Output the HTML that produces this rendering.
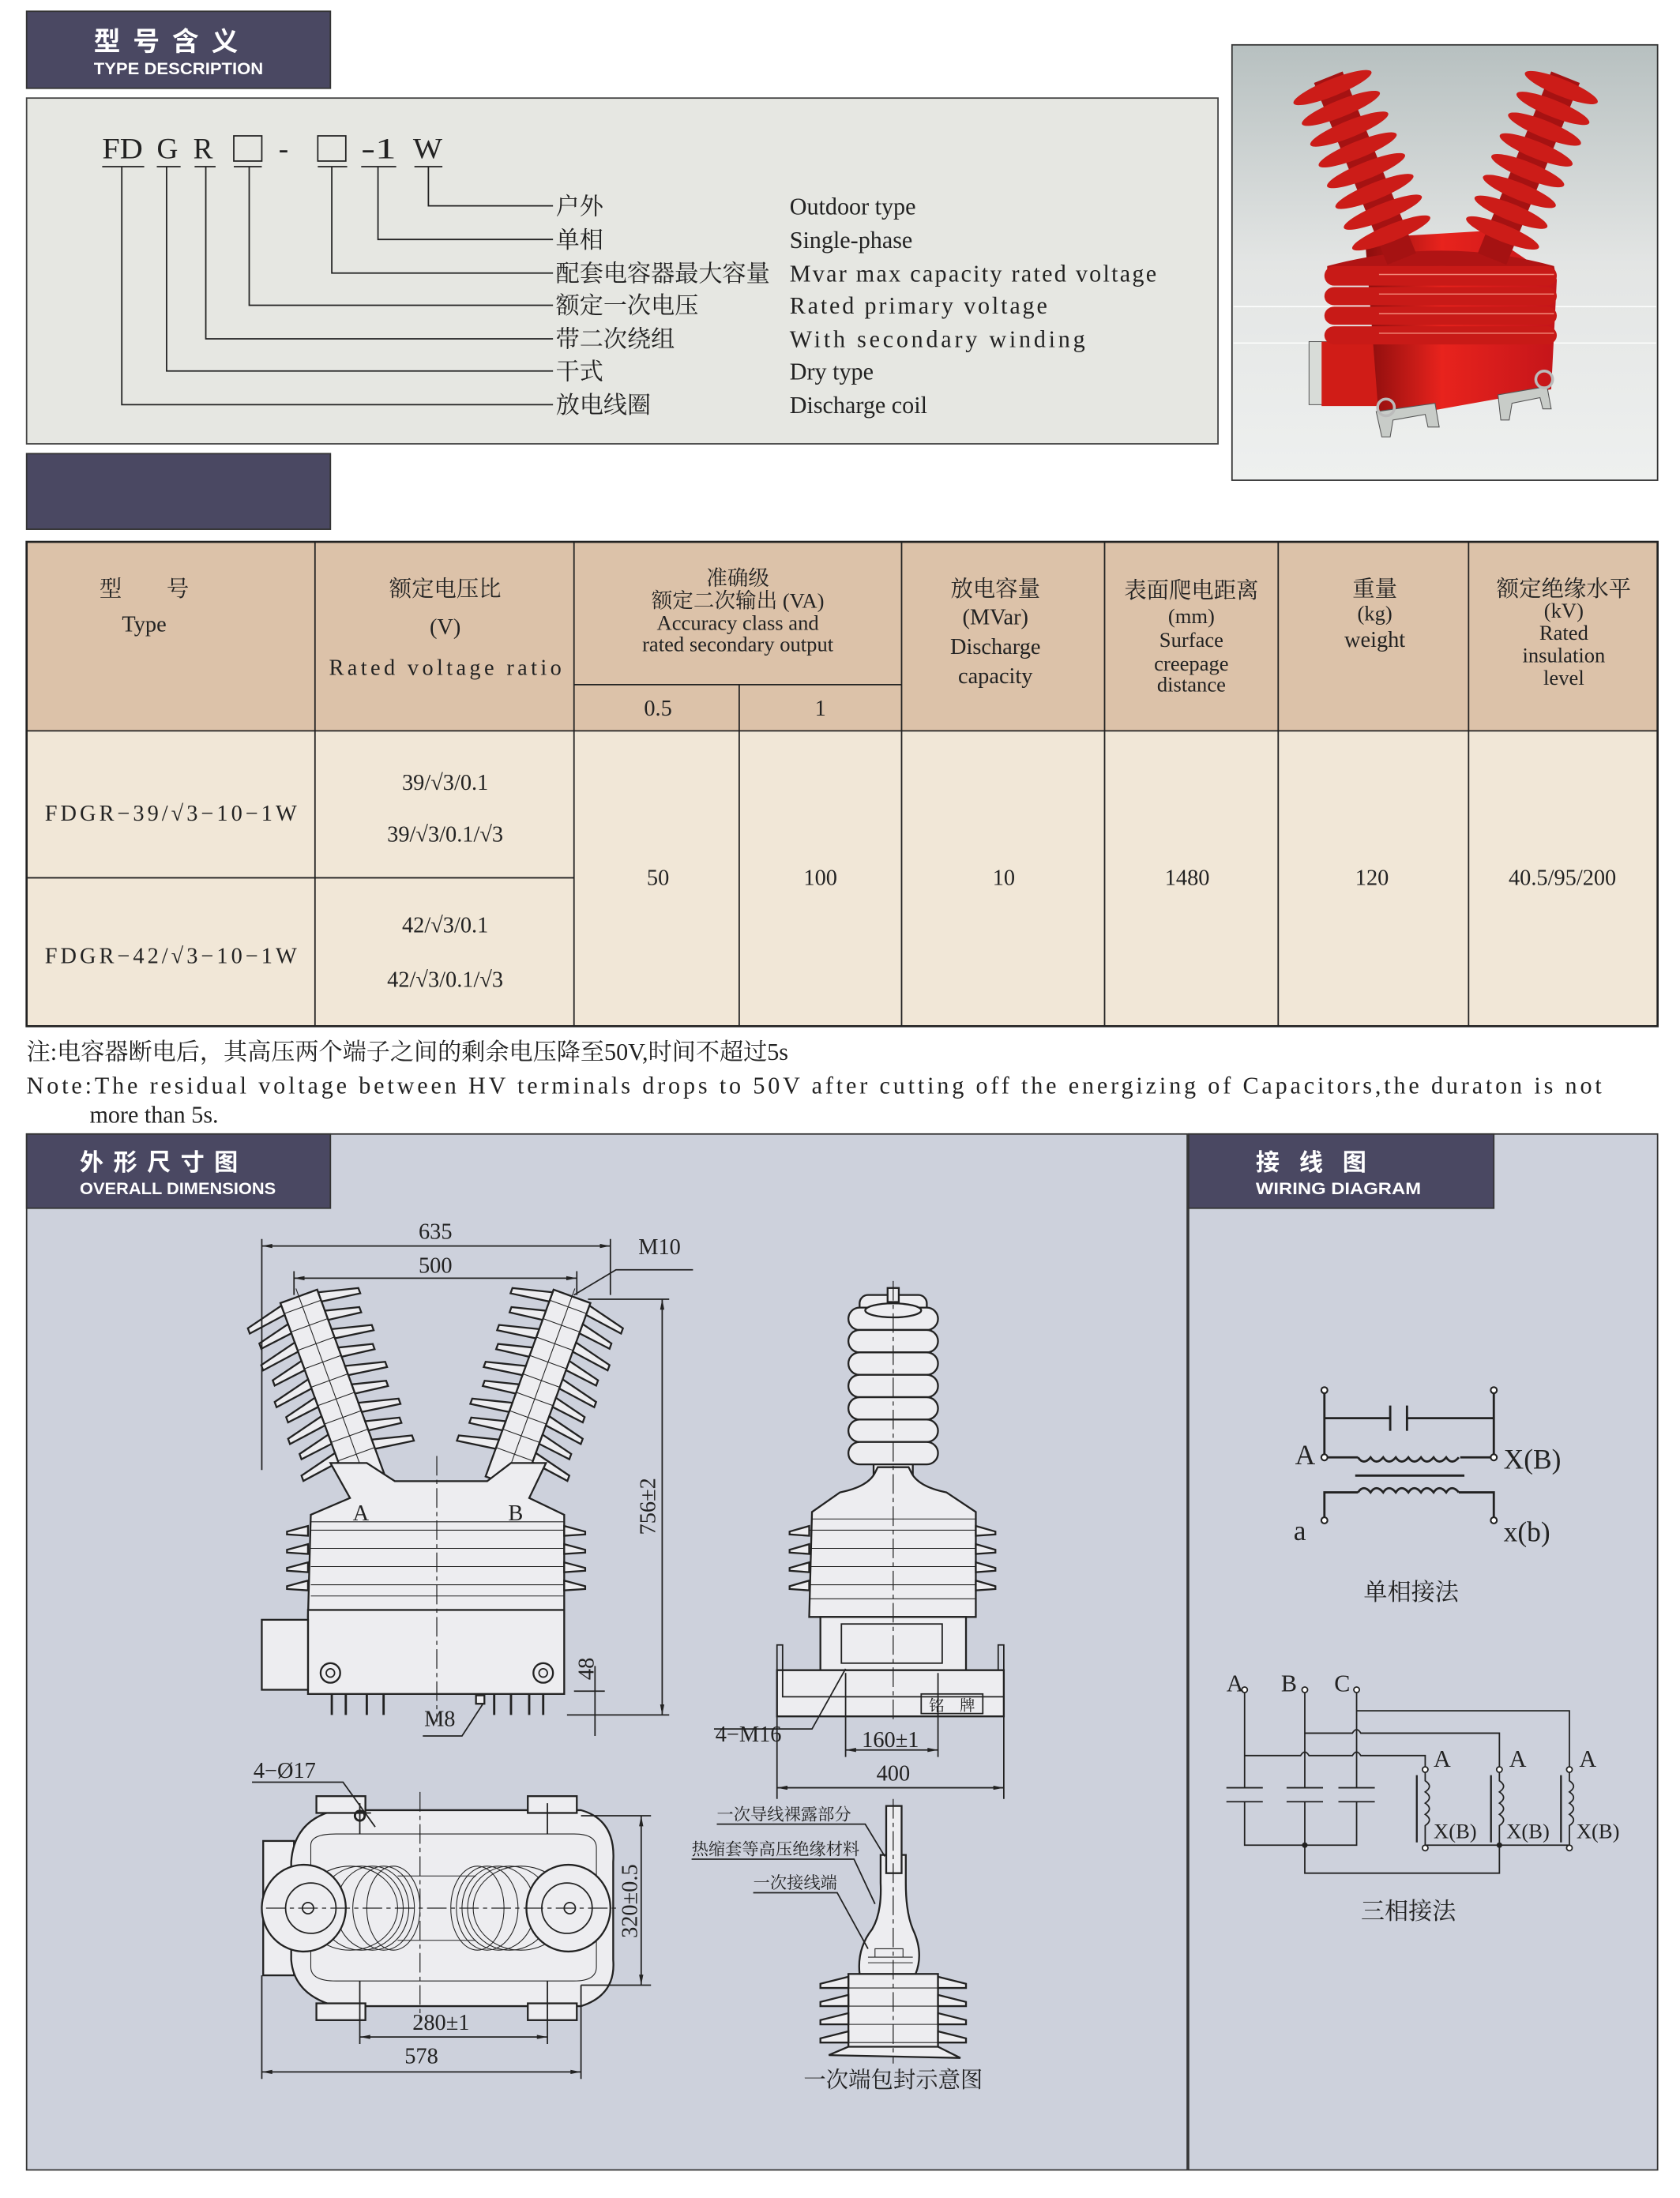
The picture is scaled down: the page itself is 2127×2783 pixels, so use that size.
<!DOCTYPE html>
<html><head><meta charset="utf-8"><style>
html,body{margin:0;padding:0;background:#fff}
svg{display:block}
text{font-family:"Liberation Serif","Noto Serif CJK SC",serif;fill:#222}
.cn{font-family:"Liberation Serif","Noto Serif CJK SC",serif}
.hd{font-family:"Liberation Sans","Noto Sans CJK SC",sans-serif;fill:#fff;font-weight:bold}
.ln{stroke:#222;stroke-width:1;fill:none}
.th{stroke:#222;stroke-width:1.6;fill:none}
.bd{fill:#ededf0;stroke:#222;stroke-width:1.3}
.th2{stroke:#222;stroke-width:0.6;fill:none}
.dash{stroke:#222;stroke-width:0.7;stroke-dasharray:14 3 3 3;fill:none}
</style></head><body>
<svg width="2127" height="2783" viewBox="0 0 1200 1570" xmlns="http://www.w3.org/2000/svg">
<defs>
<linearGradient id="pg" x1="0" y1="0" x2="0" y2="1"><stop offset="0" stop-color="#b7c0c0"/><stop offset="0.5" stop-color="#e3e5e4"/><stop offset="1" stop-color="#eef0ef"/></linearGradient>
<linearGradient id="rd" x1="0" y1="0" x2="1" y2="0"><stop offset="0" stop-color="#8a0d0d"/><stop offset="0.4" stop-color="#e8231d"/><stop offset="1" stop-color="#c4151a"/></linearGradient>
<marker id="ar" viewBox="0 0 10 4" refX="10" refY="2" markerWidth="8" markerHeight="3" orient="auto-start-reverse"><path d="M0,0L10,2L0,4z" fill="#222"/></marker>
<g id="ins">
<rect x="-14" y="-66" width="28" height="142" class="bd"/>
<g class="bd" stroke-width="1.1">
<path d="M-14 -64 L-42 -57 L-42 -53 L-14 -57Z M14 -64 L42 -57 L42 -53 L14 -57Z"/>
<path d="M-14 -50 L-38 -44 L-38 -40 L-14 -43Z M14 -50 L38 -44 L38 -40 L14 -43Z"/>
<path d="M-14 -36 L-42 -29 L-42 -25 L-14 -29Z M14 -36 L42 -29 L42 -25 L14 -29Z"/>
<path d="M-14 -22 L-38 -16 L-38 -12 L-14 -15Z M14 -22 L38 -16 L38 -12 L14 -15Z"/>
<path d="M-14 -8 L-42 -1 L-42 3 L-14 -1Z M14 -8 L42 -1 L42 3 L14 -1Z"/>
<path d="M-14 6 L-38 12 L-38 16 L-14 13Z M14 6 L38 12 L38 16 L14 13Z"/>
<path d="M-14 20 L-42 27 L-42 31 L-14 27Z M14 20 L42 27 L42 31 L14 27Z"/>
<path d="M-14 34 L-38 40 L-38 44 L-14 41Z M14 34 L38 40 L38 44 L14 41Z"/>
<path d="M-14 48 L-42 55 L-42 59 L-14 55Z M14 48 L42 55 L42 59 L14 55Z"/>
</g>
<g class="th2"><path d="M-14 -58H14M-14 -44H14M-14 -30H14M-14 -16H14M-14 -2H14M-14 12H14M-14 26H14M-14 40H14M-14 54H14"/><path d="M0 -72V70"/></g>
</g>
</defs>

<!-- TYPE DESCRIPTION header -->
<rect x="19" y="8" width="217" height="55" fill="#4a4862" stroke="#333"/>
<text x="67" y="36" class="hd" font-size="19" letter-spacing="9">型号含义</text>
<text x="67" y="53" class="hd" font-size="12" textLength="121" lengthAdjust="spacingAndGlyphs">TYPE DESCRIPTION</text>

<!-- panel -->
<rect x="19" y="70" width="851" height="247" fill="#e6e7e2" stroke="#444"/>
<g font-size="21">
<text x="73" y="113" textLength="29" lengthAdjust="spacingAndGlyphs">FD</text>
<text x="112" y="113">G</text>
<text x="138" y="113">R</text>
<rect x="167" y="97" width="20" height="18" class="ln"/>
<text x="199" y="113">-</text>
<rect x="227" y="97" width="20" height="18" class="ln"/>
<text x="258" y="113" textLength="25" lengthAdjust="spacingAndGlyphs">-1</text>
<text x="295" y="113" textLength="21" lengthAdjust="spacingAndGlyphs">W</text>
</g>
<g class="ln">
<path d="M73 119h30M112 119h17M139 119h15M167 119h20M227 119h21M258 119h25M296 119h20"/>
<path d="M87 119V289H395M119 119V265H395M147 119V242H395M178 119V218H395M237 119V195H395M270 119V171H395M306 119V147H395"/>
</g>
<g font-size="17" class="cn">
<text x="397" y="153">户外</text><text x="397" y="177">单相</text><text x="397" y="201">配套电容器最大容量</text>
<text x="397" y="224">额定一次电压</text><text x="397" y="248">带二次绕组</text><text x="397" y="271">干式</text><text x="397" y="295">放电线圈</text>
<text x="564" y="153">Outdoor type</text><text x="564" y="177">Single-phase</text><text x="564" y="201" textLength="262" lengthAdjust="spacing">Mvar max capacity rated voltage</text>
<text x="564" y="224" textLength="184" lengthAdjust="spacing">Rated primary voltage</text><text x="564" y="248" textLength="211" lengthAdjust="spacing">With secondary winding</text><text x="564" y="271">Dry type</text><text x="564" y="295">Discharge coil</text>
</g>

<!-- photo -->
<rect x="880" y="32" width="304" height="311" fill="url(#pg)" stroke="#333"/>
<line x1="881" y1="219" x2="1183" y2="219" stroke="#fff" stroke-width="0.8"/>
<line x1="881" y1="245" x2="1183" y2="245" stroke="#fff" stroke-width="0.8"/>
<g>
<rect x="935" y="244" width="22" height="45" fill="#d8dcd8" stroke="#444" stroke-width="0.5"/>
<rect x="944" y="244" width="40" height="46" fill="#d01c17"/>
<path d="M975 170 L1060 165 L1112 200 L1108 278 L985 300 Z" fill="url(#rd)"/>
<path d="M948 190 Q1030 168 1110 190 L1112 200 Q1030 180 948 200Z" fill="#b01414"/>
<g fill="#c81a17">
<rect x="946" y="190" width="166" height="14" rx="7"/><rect x="946" y="205" width="166" height="13" rx="7"/>
<rect x="946" y="219" width="166" height="13" rx="7"/><rect x="946" y="233" width="166" height="13" rx="7"/>
</g>
<g stroke="#f38a7a" stroke-width="0.8"><path d="M985 196H1110M985 210H1110M985 224H1110M985 238H1110"/></g>
<g transform="translate(975,120) rotate(-22)">
<rect x="-11" y="-70" width="22" height="140" fill="#a51212"/>
<g fill="#cc1c18"><ellipse cx="0" cy="-62" rx="30" ry="6"/><ellipse cx="0" cy="-46" rx="30" ry="6"/><ellipse cx="0" cy="-30" rx="30" ry="6"/><ellipse cx="0" cy="-14" rx="30" ry="6"/><ellipse cx="0" cy="2" rx="30" ry="6"/><ellipse cx="0" cy="18" rx="30" ry="6"/><ellipse cx="0" cy="34" rx="30" ry="6"/><ellipse cx="0" cy="50" rx="30" ry="6"/></g>
</g>
<g transform="translate(1092,120) rotate(22)">
<rect x="-11" y="-70" width="22" height="140" fill="#a51212"/>
<g fill="#cc1c18"><ellipse cx="0" cy="-62" rx="28" ry="6"/><ellipse cx="0" cy="-46" rx="28" ry="6"/><ellipse cx="0" cy="-30" rx="28" ry="6"/><ellipse cx="0" cy="-14" rx="28" ry="6"/><ellipse cx="0" cy="2" rx="28" ry="6"/><ellipse cx="0" cy="18" rx="28" ry="6"/><ellipse cx="0" cy="34" rx="28" ry="6"/><ellipse cx="0" cy="50" rx="28" ry="6"/></g>
</g>
<g fill="#c8ccc8" stroke="#555" stroke-width="0.6">
<path d="M983 294 L1025 288 L1028 305 L1020 305 L1018 296 L995 300 L993 312 L987 312Z"/>
<path d="M1070 282 L1105 276 L1108 292 L1102 292 L1100 284 L1080 288 L1078 300 L1072 300Z"/>
<circle cx="990" cy="291" r="6" fill="none" stroke="#bbb" stroke-width="2"/>
<circle cx="1103" cy="271" r="6" fill="none" stroke="#bbb" stroke-width="2"/>
</g>
</g>

<!-- second header (empty) -->
<rect x="19" y="324" width="217" height="54" fill="#4a4862" stroke="#333"/>

<!-- table -->
<rect x="19" y="387" width="1165" height="135" fill="#dcc2a9"/>
<rect x="19" y="522" width="1165" height="211" fill="#f1e7d7"/>
<rect x="19" y="387" width="1165" height="346" fill="none" stroke="#222" stroke-width="1.5"/>
<g class="ln" stroke-width="0.8">
<path d="M225 387V733M410 387V733M528 489V733M644 387V733M789 387V733M913 387V733M1049 387V733"/>
<path d="M410 489H644M19 522H1184M19 627H410"/>
</g>
<g font-size="16" text-anchor="middle" class="cn">
<text x="103" y="426">型　　号</text><text x="103" y="451">Type</text>
<text x="318" y="426">额定电压比</text><text x="318" y="453">(V)</text><text x="318" y="482" textLength="166" lengthAdjust="spacing">Rated voltage ratio</text>
<text x="527" y="418" font-size="15">准确级</text><text x="527" y="434" font-size="15">额定二次输出 (VA)</text>
<text x="527" y="450" font-size="15">Accuracy class and</text><text x="527" y="465" font-size="15">rated secondary output</text>
<text x="470" y="511">0.5</text><text x="586" y="511">1</text>
<text x="711" y="426">放电容量</text><text x="711" y="446">(MVar)</text><text x="711" y="467">Discharge</text><text x="711" y="488">capacity</text>
<text x="851" y="427">表面爬电距离</text><text x="851" y="445" font-size="15">(mm)</text><text x="851" y="462" font-size="15">Surface</text><text x="851" y="479" font-size="15">creepage</text><text x="851" y="494" font-size="15">distance</text>
<text x="982" y="426">重量</text><text x="982" y="443" font-size="15">(kg)</text><text x="982" y="462">weight</text>
<text x="1117" y="426">额定绝缘水平</text><text x="1117" y="441" font-size="15">(kV)</text><text x="1117" y="457" font-size="15">Rated</text><text x="1117" y="473" font-size="15">insulation</text><text x="1117" y="489" font-size="15">level</text>
<text x="122" y="586" textLength="180" lengthAdjust="spacing">FDGR−39/√3−10−1W</text>
<text x="318" y="564">39/√3/0.1</text><text x="318" y="601">39/√3/0.1/√3</text>
<text x="122" y="688" textLength="180" lengthAdjust="spacing">FDGR−42/√3−10−1W</text>
<text x="318" y="666">42/√3/0.1</text><text x="318" y="705">42/√3/0.1/√3</text>
<text x="470" y="632">50</text><text x="586" y="632">100</text><text x="717" y="632">10</text>
<text x="848" y="632">1480</text><text x="980" y="632">120</text><text x="1116" y="632">40.5/95/200</text>
</g>
<g font-size="17" class="cn">
<text x="19" y="757">注:电容器断电后，其高压两个端子之间的剩余电压降至50V,时间不超过5s</text>
<text x="19" y="781" textLength="1125" lengthAdjust="spacing">Note:The residual voltage between HV terminals drops to 50V after cutting off the energizing of Capacitors,the duraton is not</text>
<text x="64" y="802">more than 5s.</text>
</g>

<!-- drawing panels -->
<rect x="19" y="810" width="829" height="740" fill="#cdd1dc" stroke="#333"/>
<rect x="849" y="810" width="335" height="740" fill="#cdd1dc" stroke="#333"/>
<rect x="19" y="810" width="217" height="53" fill="#4a4862" stroke="#333"/>
<text x="57" y="836" class="hd" font-size="17" letter-spacing="7">外形尺寸图</text>
<text x="57" y="853" class="hd" font-size="12" textLength="140" lengthAdjust="spacingAndGlyphs">OVERALL DIMENSIONS</text>
<rect x="849" y="810" width="218" height="53" fill="#4a4862" stroke="#333"/>
<text x="897" y="836" class="hd" font-size="17" letter-spacing="14">接线图</text>
<text x="897" y="853" class="hd" font-size="12" textLength="118" lengthAdjust="spacingAndGlyphs">WIRING DIAGRAM</text>

<!-- FRONT VIEW -->
<g>
<use href="#ins" transform="translate(236,988) rotate(-20)"/>
<use href="#ins" transform="translate(386,988) rotate(20)"/>
<path d="M236 1045 L250 1070 L222 1082 L220 1155 L403 1155 L403 1082 L378 1070 L390 1045 L365 1045 L348 1058 L282 1058 L262 1045Z" class="bd"/>
<rect x="220" y="1150" width="183" height="60" class="bd"/>
<rect x="187" y="1157" width="33" height="50" class="bd"/>
<g class="bd" stroke-width="1.1">
<path d="M220 1090 L205 1094 L205 1096 L220 1097Z M403 1090 L418 1094 L418 1096 L403 1097Z"/>
<path d="M220 1103 L205 1107 L205 1109 L220 1110Z M403 1103 L418 1107 L418 1109 L403 1110Z"/>
<path d="M220 1116 L205 1120 L205 1122 L220 1123Z M403 1116 L418 1120 L418 1122 L403 1123Z"/>
<path d="M220 1129 L205 1133 L205 1135 L220 1136Z M403 1129 L418 1133 L418 1135 L403 1136Z"/>
</g>
<g class="th2"><path d="M222 1087H403M222 1093H403M222 1106H403M222 1119H403M222 1132H403M222 1140H403"/></g>
<path d="M312 1040V1230" class="dash"/>
<text x="252" y="1086" font-size="16">A</text><text x="363" y="1086" font-size="16">B</text>
<circle cx="236" cy="1195" r="7" class="bd"/><circle cx="236" cy="1195" r="3" class="ln"/>
<circle cx="388" cy="1195" r="7" class="bd"/><circle cx="388" cy="1195" r="3" class="ln"/>
<g class="th"><path d="M237 1210V1225M247 1210V1225M262 1210V1225M274 1210V1225M353 1210V1225M365 1210V1225M378 1210V1225M388 1210V1225"/></g>
<rect x="340" y="1211" width="6" height="6" class="bd"/>
<g class="ln" stroke-width="0.8">
<path d="M187 885V1050M436 885V925M210 908V925M412 908V925"/>
<path d="M187 890H436" marker-start="url(#ar)" marker-end="url(#ar)"/>
<path d="M210 913H412" marker-start="url(#ar)" marker-end="url(#ar)"/>
<path d="M410 925L440 907H495"/>
<path d="M420 928H478M405 1225H478M410 1208H432M425 1190V1240"/>
<path d="M473 928V1225" marker-start="url(#ar)" marker-end="url(#ar)"/>
<path d="M345 1217L330 1240H302"/>
</g>
<text x="311" y="885" font-size="16" text-anchor="middle">635</text>
<text x="311" y="909" font-size="16" text-anchor="middle">500</text>
<text x="456" y="896" font-size="16">M10</text>
<text x="468" y="1076" font-size="16" transform="rotate(-90 468 1076)" text-anchor="middle">756±2</text>
<text x="424" y="1192" font-size="16" transform="rotate(-90 424 1192)" text-anchor="middle">48</text>
<text x="303" y="1233" font-size="16">M8</text>
</g>

<!-- SIDE VIEW -->
<g>
<g class="bd" stroke-width="1.1">
<rect x="624" y="1040" width="28" height="15"/>
<rect x="614" y="925" width="48" height="120" rx="6"/>
<rect x="606" y="934" width="64" height="16" rx="8"/><rect x="606" y="950" width="64" height="16" rx="8"/>
<rect x="606" y="966" width="64" height="16" rx="8"/><rect x="606" y="982" width="64" height="16" rx="8"/>
<rect x="606" y="998" width="64" height="16" rx="8"/><rect x="606" y="1014" width="64" height="16" rx="8"/>
<rect x="606" y="1030" width="64" height="16" rx="8"/>
<ellipse cx="638" cy="936" rx="20" ry="5"/>
<rect x="634" y="920" width="8" height="10"/>
</g>
<path d="M627 1048 L625 1052 Q620 1062 600 1066 L580 1080 L578 1155 L697 1155 L697 1080 L676 1066 Q656 1062 651 1052 L649 1048Z" class="bd"/>
<g class="bd" stroke-width="1.1">
<path d="M578 1090 L564 1094 L564 1096 L578 1097Z M697 1090 L711 1094 L711 1096 L697 1097Z"/>
<path d="M578 1103 L564 1107 L564 1109 L578 1110Z M697 1103 L711 1107 L711 1109 L697 1110Z"/>
<path d="M578 1116 L564 1120 L564 1122 L578 1123Z M697 1116 L711 1120 L711 1122 L697 1123Z"/>
<path d="M578 1129 L564 1133 L564 1135 L578 1136Z M697 1129 L711 1133 L711 1135 L697 1136Z"/>
</g>
<g class="th2"><path d="M580 1085H697M578 1093H697M578 1106H697M578 1119H697M578 1132H697M578 1142H697"/></g>
<rect x="586" y="1155" width="104" height="38" class="bd"/>
<rect x="601" y="1160" width="72" height="28" class="ln" stroke-width="0.6"/>
<path d="M555 1193 L717 1193 L717 1226 L555 1226 Z" class="bd"/>
<path d="M555 1193V1175h4V1212h158V1175h-4v18" class="ln"/>
<rect x="658" y="1210" width="44" height="14" class="ln" stroke-width="0.8"/>
<text x="680" y="1222" font-size="11" text-anchor="middle" class="cn">铭　牌</text>
<path d="M638 915V1230" class="dash"/>
<g class="ln" stroke-width="0.8">
<path d="M604 1192L580 1235H510"/>
<path d="M604 1195V1255M670 1195V1255M555 1226V1285M717 1226V1285"/>
<path d="M604 1250H670" marker-start="url(#ar)" marker-end="url(#ar)"/>
<path d="M555 1277H717" marker-start="url(#ar)" marker-end="url(#ar)"/>
</g>
<text x="511" y="1244" font-size="16">4−M16</text>
<text x="636" y="1248" font-size="16" text-anchor="middle">160±1</text>
<text x="638" y="1272" font-size="16" text-anchor="middle">400</text>
</g>

<!-- PLAN VIEW -->
<g>
<rect x="188" y="1315" width="22" height="96" class="bd"/>
<path d="M240 1293 H415 Q440 1300 438 1330 V1400 Q440 1425 415 1433 H240 Q210 1425 208 1400 V1330 Q210 1300 240 1293Z" class="bd"/>
<rect x="226" y="1283" width="35" height="12" class="bd"/><rect x="377" y="1283" width="35" height="12" class="bd"/>
<rect x="226" y="1431" width="35" height="12" class="bd"/><rect x="377" y="1431" width="35" height="12" class="bd"/>
<path d="M222 1318 Q222 1310 240 1310 H410 Q426 1310 426 1320 V1405 Q426 1415 410 1415 H240 Q222 1415 222 1405Z" class="th2"/>
<g class="th2">
<ellipse cx="250" cy="1363" rx="34" ry="30"/><ellipse cx="258" cy="1363" rx="30" ry="30"/><ellipse cx="266" cy="1363" rx="26" ry="30"/><ellipse cx="274" cy="1363" rx="22" ry="30"/><ellipse cx="281" cy="1363" rx="19" ry="30"/>
<ellipse cx="372" cy="1363" rx="34" ry="30"/><ellipse cx="364" cy="1363" rx="30" ry="30"/><ellipse cx="356" cy="1363" rx="26" ry="30"/><ellipse cx="348" cy="1363" rx="22" ry="30"/><ellipse cx="341" cy="1363" rx="19" ry="30"/>
<path d="M284 1340H340M284 1386H340"/>
</g>
<ellipse cx="217" cy="1363" rx="30" ry="31" class="bd"/><circle cx="222" cy="1363" r="18" class="ln" stroke-width="0.7"/><circle cx="220" cy="1363" r="4" class="ln"/>
<ellipse cx="406" cy="1363" rx="30" ry="31" class="bd"/><circle cx="405" cy="1363" r="18" class="ln" stroke-width="0.7"/><circle cx="407" cy="1363" r="4" class="ln"/>
<path d="M190 1363H440M300 1280V1445" class="dash"/>
<circle cx="257" cy="1297" r="3.5" class="th"/>
<g class="ln" stroke-width="0.8">
<path d="M180 1273H245L268 1305"/>
<path d="M250 1295H265M257 1288V1310M385 1295H398M391 1288V1310"/>
<path d="M415 1297H465M415 1418H465"/>
<path d="M458 1297V1418" marker-start="url(#ar)" marker-end="url(#ar)"/>
<path d="M257 1415V1460M391 1415V1460M187 1411V1485M415 1418V1485"/>
<path d="M257 1455H391" marker-start="url(#ar)" marker-end="url(#ar)"/>
<path d="M187 1480H415" marker-start="url(#ar)" marker-end="url(#ar)"/>
</g>
<text x="181" y="1270" font-size="16">4−Ø17</text>
<text x="455" y="1358" font-size="16" transform="rotate(-90 455 1358)" text-anchor="middle">320±0.5</text>
<text x="315" y="1450" font-size="16" text-anchor="middle">280±1</text>
<text x="301" y="1474" font-size="16" text-anchor="middle">578</text>
</g>

<!-- encapsulation detail -->
<g>
<rect x="606" y="1410" width="64" height="58" class="bd"/>
<g class="bd" stroke-width="1.1">
<path d="M606 1412 L586 1417 L586 1420 L606 1420Z M670 1412 L690 1417 L690 1420 L670 1420Z"/>
<path d="M606 1425 L586 1430 L586 1433 L606 1433Z M670 1425 L690 1430 L690 1433 L670 1433Z"/>
<path d="M606 1438 L586 1443 L586 1446 L606 1446Z M670 1438 L690 1443 L690 1446 L670 1446Z"/>
<path d="M606 1451 L586 1456 L586 1459 L606 1459Z M670 1451 L690 1456 L690 1459 L670 1459Z"/>
<path d="M606 1462 L592 1468 L686 1470 L670 1462Z"/>
</g>
<g class="th2"><path d="M606 1420H670M606 1433H670M606 1446H670M606 1459H670"/></g>
<path d="M614 1410 Q612 1392 623 1378 Q630 1366 629 1345 V1325 H647 V1345 Q647 1366 652 1378 Q660 1395 654 1410Z" class="bd"/>
<rect x="633" y="1290" width="11" height="48" class="bd"/>
<g class="th2"><path d="M620 1398H652M620 1402H652M625 1392h20v6h-20z"/></g>
<path d="M638 1285V1474" class="dash"/>
<g class="ln" stroke-width="0.7">
<path d="M512 1303H618L632 1326"/>
<path d="M494 1328H610L625 1360"/>
<path d="M538 1352H598L620 1392"/>
</g>
<g font-size="12" class="cn">
<text x="512" y="1300">一次导线裸露部分</text>
<text x="494" y="1325">热缩套等高压绝缘材料</text>
<text x="538" y="1349">一次接线端</text>
</g>
<text x="638" y="1491" font-size="16" text-anchor="middle" class="cn">一次端包封示意图</text>
</g>

<!-- WIRING single phase -->
<g class="th" stroke-width="1.6">
<path d="M946 995V1041H970M1067 995V1041H1043"/>
<path d="M946 1013H993M1005 1013H1067M993 1004V1022M1005 1004V1022"/>
<path d="M970 1041 q4 6 9 0 q4 6 9 0 q4 6 9 0 q4 6 9 0 q4 6 9 0 q4 6 9 0 q4 6 9 0 q4 6 9 0"/>
<path d="M968 1054H1046"/>
<path d="M970 1066 q4 -6 9 0 q4 -6 9 0 q4 -6 9 0 q4 -6 9 0 q4 -6 9 0 q4 -6 9 0 q4 -6 9 0 q4 -6 9 0"/>
<path d="M970 1066H946V1085M1042 1066H1067V1085"/>
</g>
<g fill="#fff" stroke="#222" stroke-width="1.2"><circle cx="946" cy="993" r="2.2"/><circle cx="1067" cy="993" r="2.2"/><circle cx="946" cy="1041" r="2.2"/><circle cx="1067" cy="1041" r="2.2"/><circle cx="946" cy="1086" r="2.2"/><circle cx="1067" cy="1086" r="2.2"/></g>
<g font-size="20">
<text x="925" y="1046">A</text><text x="1074" y="1049">X(B)</text>
<text x="924" y="1100">a</text><text x="1074" y="1101">x(b)</text>
</g>
<text x="1008" y="1143" font-size="17" text-anchor="middle" class="cn">单相接法</text>

<!-- WIRING three phase -->
<g class="ln" stroke-width="1">
<path d="M889 1208V1277M889 1287V1318H969V1287M969 1277V1208"/>
<path d="M932 1208V1277M932 1287V1338H1071V1318"/>
<path d="M876 1277H902M876 1287H902M919 1277H945M919 1287H945M956 1277H982M956 1287H982"/>
<path d="M969 1222H1121V1262"/>
<path d="M932 1238H966q3 -5 6 0H1071V1262"/>
<path d="M889 1254H929q3 -5 6 0H966q3 -5 6 0H1018V1262"/>
<path d="M1018 1318H1121"/>
<path d="M1018 1266V1272 q6 4 0 8 q6 4 0 8 q6 4 0 8 q6 4 0 8V1318"/>
<path d="M1071 1266V1272 q6 4 0 8 q6 4 0 8 q6 4 0 8 q6 4 0 8V1318"/>
<path d="M1121 1266V1272 q6 4 0 8 q6 4 0 8 q6 4 0 8 q6 4 0 8V1318"/>
<path d="M1012 1268V1316M1065 1268V1316M1115 1268V1316" stroke-width="1.3"/>
</g>
<g fill="#fff" stroke="#222" stroke-width="1"><circle cx="889" cy="1207" r="2"/><circle cx="932" cy="1207" r="2"/><circle cx="969" cy="1207" r="2"/><circle cx="1018" cy="1264" r="2"/><circle cx="1071" cy="1264" r="2"/><circle cx="1121" cy="1264" r="2"/><circle cx="1018" cy="1320" r="2"/><circle cx="1121" cy="1320" r="2"/></g>
<circle cx="932" cy="1318" r="2" fill="#222"/><circle cx="1071" cy="1318" r="2" fill="#222"/>
<g font-size="17">
<text x="876" y="1208">A</text><text x="915" y="1208">B</text><text x="953" y="1208">C</text>
<text x="1024" y="1262">A</text><text x="1078" y="1262">A</text><text x="1128" y="1262">A</text>
</g>
<g font-size="15"><text x="1024" y="1313">X(B)</text><text x="1076" y="1313">X(B)</text><text x="1126" y="1313">X(B)</text></g>
<text x="1006" y="1371" font-size="17" text-anchor="middle" class="cn">三相接法</text>
</svg>
</body></html>
